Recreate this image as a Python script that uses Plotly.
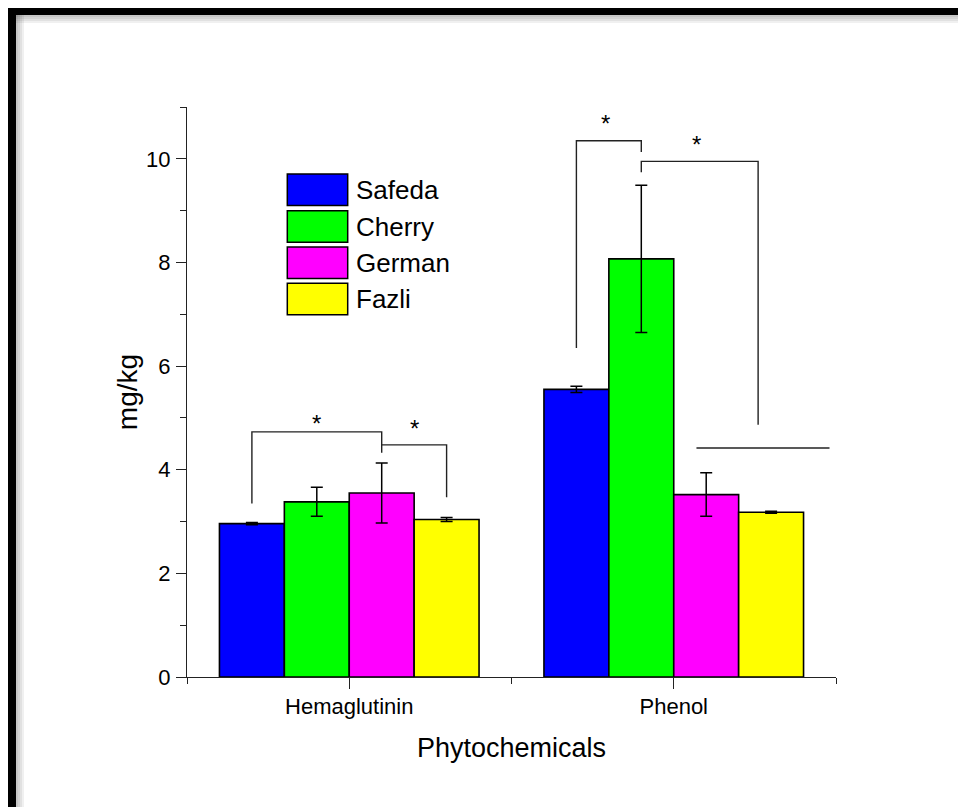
import plotly.graph_objects as go

categories = ["Hemaglutinin", "Phenol"]
cat_pos = [1, 2]
series = ["Safeda", "Cherry", "German", "Fazli"]
colors = ["#0000FF", "#00FF00", "#FF00FF", "#FFFF00"]
safeda = [2.96, 5.55]
cherry = [3.38, 8.07]
german = [3.55, 3.52]
fazli = [3.04, 3.18]
safeda_err = [0.02, 0.06]
cherry_err = [0.28, 1.42]
german_err = [0.58, 0.42]
fazli_err = [0.04, 0.02]
values = [safeda, cherry, german, fazli]
errors = [safeda_err, cherry_err, german_err, fazli_err]

# significance brackets (data units)
bracket_x = [[0.70, 0.70, 1.10, 1.10], [1.10, 1.30, 1.30],
             [1.70, 1.70, 1.90, 1.90], [1.90, 1.90, 2.26, 2.26], [2.07, 2.48]]
bracket_y = [[3.35, 4.73, 4.73, 4.33], [4.48, 4.48, 3.47],
             [6.35, 10.35, 10.35, 10.13], [9.74, 9.95, 9.95, 4.87], [4.42, 4.42]]
star_x = [0.90, 1.20, 1.79, 2.07]
star_y = [5.00, 4.92, 10.80, 10.39]

O = 8  # page body margin
W, H = 966 - O, 807 - O
L, R, T, B = 187 - O, 836 - O, 107 - O, 677 - O


def px_x(p):
    return (p - O - L) / (R - L)


def px_y(p):
    return (B - (p - O)) / (B - T)


FONT = "Liberation Sans, Arial, sans-serif"

fig = go.Figure()
for name, col, v, e in zip(series, colors, values, errors):
    fig.add_trace(go.Bar(
        x=cat_pos, y=v, name=name, showlegend=False,
        marker=dict(color=col, line=dict(color="black", width=1.6)),
        error_y=dict(type="data", array=e, color="black", thickness=1.5, width=6),
    ))

for bx, by in zip(bracket_x, bracket_y):
    fig.add_trace(go.Scatter(x=bx, y=by, mode="lines", showlegend=False,
                             line=dict(color="#222", width=1.4), hoverinfo="skip"))

annotations = []
for sx, sy in zip(star_x, star_y):
    annotations.append(dict(x=sx, y=sy, xref="x", yref="y", text="*", showarrow=False,
                            yshift=-6, font=dict(family=FONT, size=24, color="black")))

shapes = []
# frame (black band top and left) with soft shadow
shapes.append(dict(type="rect", xref="paper", yref="paper", x0=px_x(7), x1=px_x(980),
                   y0=px_y(6), y1=px_y(15), fillcolor="black", line=dict(width=0), layer="above"))
shapes.append(dict(type="rect", xref="paper", yref="paper", x0=px_x(7), x1=px_x(16),
                   y0=px_y(6), y1=px_y(820), fillcolor="black", line=dict(width=0), layer="above"))
for d in [2, 4, 6, 8]:
    shapes.append(dict(type="rect", xref="paper", yref="paper", x0=px_x(16), x1=px_x(980),
                       y0=px_y(15), y1=px_y(15 + d), fillcolor="rgba(0,0,0,0.06)",
                       line=dict(width=0)))
    shapes.append(dict(type="rect", xref="paper", yref="paper", x0=px_x(16), x1=px_x(16 + d),
                       y0=px_y(15), y1=px_y(820), fillcolor="rgba(0,0,0,0.06)",
                       line=dict(width=0)))

# custom legend
leg_top = [174, 210.7, 247, 283.3]
for name, col, top in zip(series, colors, leg_top):
    shapes.append(dict(type="rect", xref="paper", yref="paper", x0=px_x(287.3), x1=px_x(347.7),
                       y0=px_y(top + 31.5), y1=px_y(top), fillcolor=col,
                       line=dict(color="black", width=1.5)))
    annotations.append(dict(x=px_x(354), y=px_y(top + 16), xref="paper", yref="paper",
                            text=name, showarrow=False, xanchor="left", yanchor="middle",
                            font=dict(family=FONT, size=26, color="black")))

fig.update_layout(
    width=W, height=H,
    margin=dict(l=L, r=W - R, t=T, b=H - B, pad=0),
    paper_bgcolor="white", plot_bgcolor="white",
    barmode="group", bargap=0.2, bargroupgap=0,
    font=dict(family=FONT, color="black"),
    annotations=annotations, shapes=shapes,
    xaxis=dict(range=[0.5, 2.5], tickvals=cat_pos, ticktext=categories,
               showgrid=False, zeroline=False, showline=True, linecolor="#222", linewidth=1.4,
               ticks="outside", ticklen=11, tickwidth=1.4, tickcolor="#222",
               tickfont=dict(size=22, family=FONT), ticklabelstandoff=-2,
               minor=dict(tickvals=[0.5, 1.5, 2.5], ticks="outside", ticklen=6,
                          tickwidth=1.4, tickcolor="#222"),
               title=dict(text="Phytochemicals", font=dict(size=27, family=FONT), standoff=20)),
    yaxis=dict(range=[0, 11], tickvals=[0, 2, 4, 6, 8, 10],
               showgrid=False, zeroline=False, showline=True, linecolor="#222", linewidth=1.4,
               ticks="outside", ticklen=10, tickwidth=1.4, tickcolor="#222",
               tickfont=dict(size=22, family=FONT), ticklabelstandoff=1,
               minor=dict(tickvals=[1, 3, 5, 7, 9, 11], ticks="outside", ticklen=6,
                          tickwidth=1.4, tickcolor="#222"),
               title=dict(text="mg/kg", font=dict(size=28, family=FONT), standoff=0)),
)

fig.write_html("out.html")
